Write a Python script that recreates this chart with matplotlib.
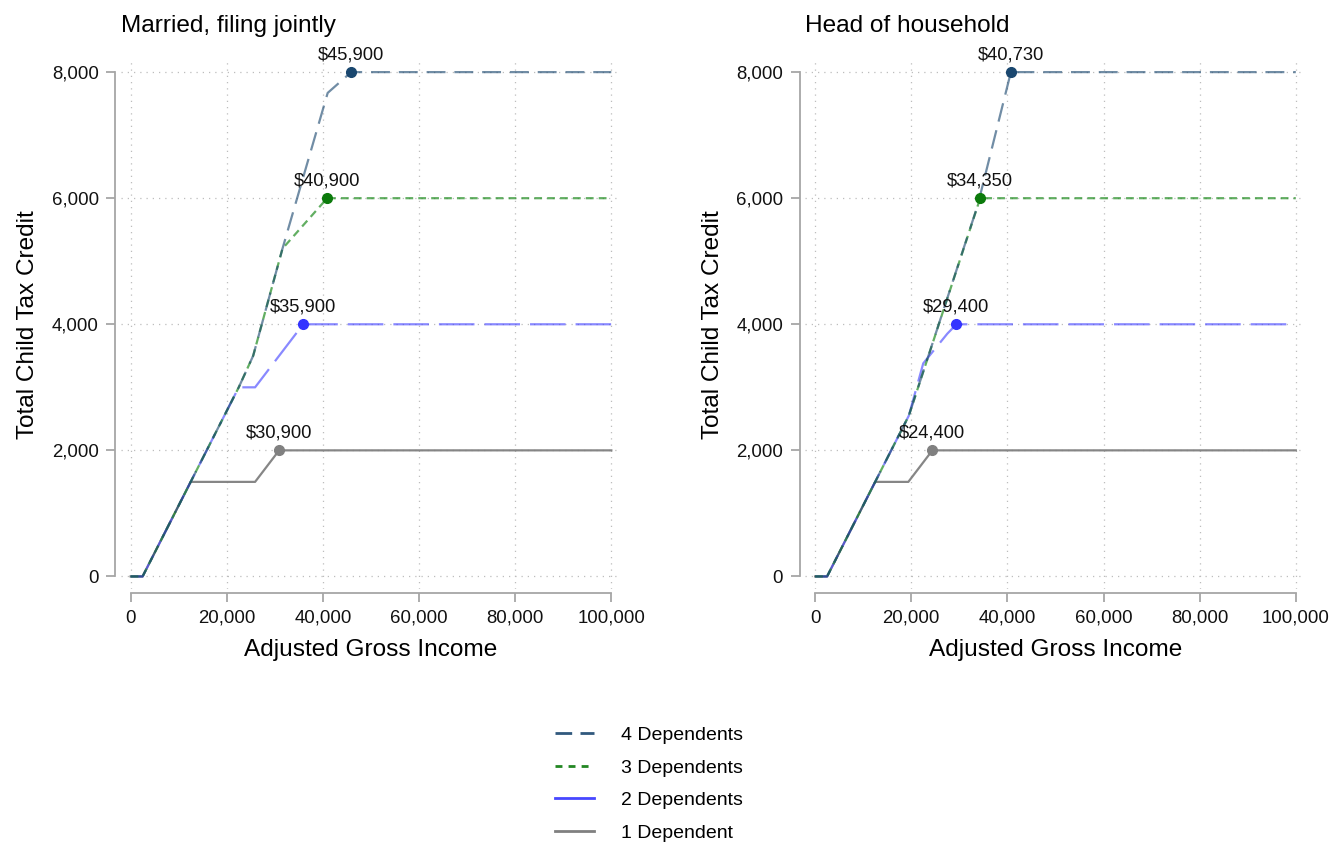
import matplotlib
matplotlib.use('Agg')
import matplotlib.pyplot as plt
from matplotlib.lines import Line2D
from matplotlib.ticker import FuncFormatter

plt.rcParams['font.family'] = ['Liberation Sans', 'DejaVu Sans']

#  Married, filing jointly
agi_mfj_1 = [0, 2500, 12500, 25900, 30900, 100000]
ctc_mfj_1 = [0, 0, 1500, 1500, 2000, 2000]
agi_mfj_2 = [0, 2500, 12500, 22500, 25900, 35900, 100000]
ctc_mfj_2 = [0, 0, 1500, 3000, 3000, 4000, 4000]
agi_mfj_3 = [0, 2500, 12500, 22500, 25500, 31600, 40900, 100000]
ctc_mfj_3 = [0, 0, 1500, 3000, 3500, 5200, 6000, 6000]
agi_mfj_4 = [0, 2500, 12500, 22500, 25500, 31600, 41000, 45900, 100000]
ctc_mfj_4 = [0, 0, 1500, 3000, 3500, 5200, 7670, 8000, 8000]
peak_mfj = [30900, 35900, 40900, 45900]

#  Head of household
agi_hoh_1 = [0, 2500, 12500, 19400, 24400, 100000]
ctc_hoh_1 = [0, 0, 1500, 1500, 2000, 2000]
agi_hoh_2 = [0, 2500, 12500, 19500, 22500, 27500, 29400, 100000]
ctc_hoh_2 = [0, 0, 1500, 2550, 3380, 3850, 4000, 4000]
agi_hoh_3 = [0, 2500, 12500, 19500, 34350, 100000]
ctc_hoh_3 = [0, 0, 1500, 2550, 6000, 6000]
agi_hoh_4 = [0, 2500, 12500, 19500, 33800, 40730, 100000]
ctc_hoh_4 = [0, 0, 1500, 2550, 5880, 8000, 8000]
peak_hoh = [24400, 29400, 34350, 40730]

peak_credit = [2000, 4000, 6000, 8000]
labels = ['1 Dependent', '2 Dependents', '3 Dependents', '4 Dependents']
panel_titles = ['Married, filing jointly', 'Head of household']

#  styles: 1, 2, 3, 4 dependents
line_colors = ['#808080', '#3b3bff', '#1f8c1f', '#1a476f']
dot_colors = ['#808080', '#3333ff', '#0b7a0b', '#1a476f']
line_alpha = [0.95, 0.6, 0.7, 0.62]
dash_styles = ['-', (0, (16, 4.5)), (0, (3.5, 2.3)), (0, (8.5, 4))]
legend_dashes = ['-', '-', (0, (2.5, 2.2)), (0, (6, 3))]

fig = plt.figure(figsize=(13.44, 8.5), dpi=100)
ax_l = fig.add_axes([0.0900, 0.307, 0.372, 0.623])
ax_r = fig.add_axes([0.5993, 0.307, 0.372, 0.623])

panels = [
    (ax_l, [(agi_mfj_1, ctc_mfj_1), (agi_mfj_2, ctc_mfj_2), (agi_mfj_3, ctc_mfj_3), (agi_mfj_4, ctc_mfj_4)], peak_mfj),
    (ax_r, [(agi_hoh_1, ctc_hoh_1), (agi_hoh_2, ctc_hoh_2), (agi_hoh_3, ctc_hoh_3), (agi_hoh_4, ctc_hoh_4)], peak_hoh),
]

for (ax, series, peaks), title in zip(panels, panel_titles):

    for i, (x, y) in enumerate(series):
        ax.plot(x, y, color=line_colors[i], alpha=line_alpha[i], lw=1.6,
                linestyle=dash_styles[i], zorder=3)

    for i, (px, py) in enumerate(zip(peaks, peak_credit)):
        ax.plot(px, py, marker='o', markersize=7, color=dot_colors[i], zorder=5)
        ax.annotate(f'${px:,}', (px, py), xytext=(0, 6.5), textcoords='offset points',
                    ha='center', va='bottom', fontsize=13.2, color='#111111', zorder=6)

    #  axes / grid formatting
    ax.set_xlim(-2000, 102000)
    ax.set_ylim(-200, 8200)
    ax.set_xticks(range(0, 100001, 20000))
    ax.set_yticks(range(0, 8001, 2000))
    fmt = FuncFormatter(lambda v, p: f'{int(v):,}')
    ax.xaxis.set_major_formatter(fmt)
    ax.yaxis.set_major_formatter(fmt)
    ax.grid(which='major', linestyle=(0, (1, 4)), linewidth=0.9, color='#bdbdbd', zorder=0)

    for s in ['top', 'right']:
        ax.spines[s].set_visible(False)
    ax.spines['left'].set_position(('outward', 4))
    ax.spines['bottom'].set_position(('outward', 3))
    ax.spines['left'].set_bounds(0, 8000)
    ax.spines['bottom'].set_bounds(0, 100000)
    for s in ['left', 'bottom']:
        ax.spines[s].set_color('#a6a6a6')
        ax.spines[s].set_linewidth(1.3)
    ax.tick_params(length=6.5, width=1.3, color='#a6a6a6', labelsize=13.4,
                   labelcolor='#111111', pad=5.5)

    ax.set_xlabel('Adjusted Gross Income', fontsize=17.6, labelpad=9)
    ax.set_ylabel('Total Child Tax Credit', fontsize=17.6, labelpad=9)
    ax.set_title(title, loc='left', fontsize=17.6, pad=20)

#  legend, 4 dependents first
handles = [Line2D([0], [0], color=dot_colors[i], lw=2, linestyle=legend_dashes[i],
                  alpha=0.9 if i != 0 else 1) for i in range(3, -1, -1)]
fig.legend(handles, labels[::-1], loc='center', bbox_to_anchor=(0.483, 0.0776),
           frameon=False, fontsize=14, handlelength=2.0, handletextpad=1.4,
           labelspacing=0.77)

fig.savefig('out.png', dpi=100)
